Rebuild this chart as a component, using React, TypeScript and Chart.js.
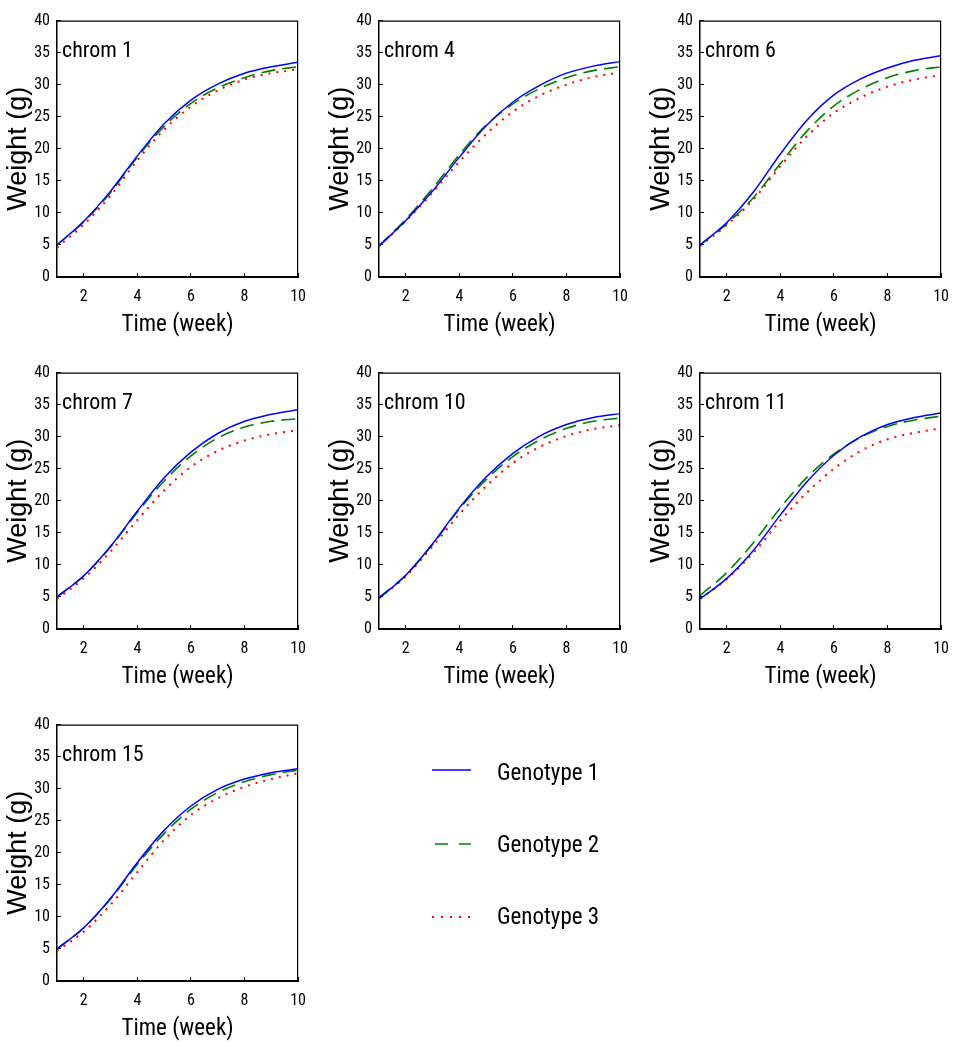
import React, { useEffect, useRef } from "react";
import { Chart, registerables } from "chart.js";

Chart.register(...registerables);

// ---------- data ----------
const WEEKS = [1, 2, 3, 4, 5, 6, 7, 8, 9, 10];
const X_TICKS = [2, 4, 6, 8, 10];
const Y_TICKS = [0, 5, 10, 15, 20, 25, 30, 35, 40];
const GENOTYPES = ["Genotype 1", "Genotype 2", "Genotype 3"];
const CHROMS = ["chrom 1", "chrom 4", "chrom 6", "chrom 7", "chrom 10", "chrom 11", "chrom 15"];

const chrom1G1 = [5.0, 8.7, 13.4, 18.9, 23.9, 27.6, 30.1, 31.8, 32.8, 33.5];
const chrom1G2 = [5.0, 8.6, 13.2, 18.7, 23.5, 27.1, 29.5, 31.1, 32.2, 32.8];
const chrom1G3 = [4.6, 8.2, 12.7, 18.2, 23.0, 26.6, 29.1, 30.8, 31.8, 32.4];

const chrom4G1 = [4.8, 8.8, 13.4, 18.7, 23.6, 27.3, 29.9, 31.8, 32.9, 33.6];
const chrom4G2 = [4.9, 9.0, 13.8, 19.1, 23.7, 27.0, 29.4, 31.1, 32.2, 32.8];
const chrom4G3 = [4.9, 8.7, 13.2, 18.0, 22.3, 25.8, 28.3, 30.0, 31.2, 31.9];

const chrom6G1 = [5.0, 8.5, 13.3, 19.2, 24.5, 28.4, 30.9, 32.6, 33.8, 34.5];
const chrom6G2 = [5.0, 8.3, 12.4, 17.7, 22.8, 26.7, 29.3, 31.1, 32.2, 32.8];
const chrom6G3 = [4.8, 8.1, 12.1, 17.3, 22.0, 25.6, 28.0, 29.7, 30.8, 31.5];

const chrom7G1 = [5.0, 8.3, 12.9, 18.4, 23.6, 27.6, 30.5, 32.4, 33.5, 34.2];
const chrom7G2 = [5.0, 8.3, 12.8, 18.2, 23.1, 27.0, 29.8, 31.5, 32.4, 32.8];
const chrom7G3 = [4.7, 7.9, 12.1, 17.0, 21.6, 25.3, 27.8, 29.4, 30.4, 31.0];

const chrom10G1 = [4.8, 8.4, 13.3, 18.9, 23.7, 27.4, 30.1, 31.9, 33.0, 33.6];
const chrom10G2 = [4.9, 8.4, 13.2, 18.7, 23.3, 26.9, 29.5, 31.3, 32.4, 32.9];
const chrom10G3 = [4.8, 8.2, 12.9, 17.9, 22.3, 25.9, 28.4, 30.1, 31.2, 31.8];

const chrom11G1 = [4.7, 7.9, 12.3, 17.8, 23.0, 27.1, 30.0, 31.9, 33.0, 33.7];
const chrom11G2 = [5.2, 8.8, 13.5, 18.9, 23.7, 27.3, 29.9, 31.6, 32.6, 33.2];
const chrom11G3 = [4.7, 7.8, 11.9, 16.9, 21.3, 25.0, 27.8, 29.6, 30.6, 31.3];

const chrom15G1 = [5.0, 8.3, 12.9, 18.5, 23.5, 27.3, 29.9, 31.5, 32.5, 33.1];
const chrom15G2 = [5.0, 8.3, 12.8, 18.2, 23.0, 26.8, 29.4, 31.1, 32.2, 32.9];
const chrom15G3 = [4.7, 7.7, 11.9, 17.0, 22.0, 25.9, 28.5, 30.3, 31.5, 32.4];

const SERIES = [
  [chrom1G1, chrom1G2, chrom1G3],
  [chrom4G1, chrom4G2, chrom4G3],
  [chrom6G1, chrom6G2, chrom6G3],
  [chrom7G1, chrom7G2, chrom7G3],
  [chrom10G1, chrom10G2, chrom10G3],
  [chrom11G1, chrom11G2, chrom11G3],
  [chrom15G1, chrom15G2, chrom15G3],
];

// ---------- layout / style ----------
const SLOTS = [
  { left: 0, top: 0 },
  { left: 322, top: 0 },
  { left: 643, top: 0 },
  { left: 0, top: 352 },
  { left: 322, top: 352 },
  { left: 643, top: 352 },
  { left: 0, top: 704 },
];
const CW = 320;
const CH = 345;
const NARROW = 'Roboto, "Liberation Sans", Arial, sans-serif';
const REGULAR = '"Liberation Sans", Arial, sans-serif';
const COLORS = ["#0000ff", "#008000", "#ff0000"];
const DASHES: number[][] = [[], [14, 7], [2, 6]];
const WIDTHS = [1.5, 1.6, 2];

const framePlugin = {
  id: "frame",
  afterDraw(chart: any, _args: any, opts: any) {
    const { ctx, chartArea } = chart;
    const { left, top, right, bottom } = chartArea;
    ctx.save();
    ctx.strokeStyle = "#000";
    ctx.lineWidth = 1.2;
    ctx.beginPath();
    ctx.moveTo(left, top + 0.5);
    ctx.lineTo(right, top + 0.5);
    ctx.moveTo(right - 0.5, top);
    ctx.lineTo(right - 0.5, bottom);
    ctx.stroke();
    ctx.font = `condensed 22px ${NARROW}`;
    ctx.fillStyle = "#000";
    ctx.textBaseline = "alphabetic";
    ctx.textAlign = "left";
    ctx.fillText(opts.label, left + 5, top + 36);
    ctx.restore();
  },
};

function Panel({ idx }: { idx: number }) {
  const ref = useRef<HTMLCanvasElement | null>(null);
  useEffect(() => {
    if (!ref.current) return;
    const series = SERIES[idx];
    const chart = new Chart(ref.current, {
      type: "line",
      data: {
        datasets: series.map((vals, g) => ({
          label: GENOTYPES[g],
          data: WEEKS.map((w, i) => ({ x: w, y: vals[i] })),
          borderColor: COLORS[g],
          borderWidth: WIDTHS[g],
          borderDash: DASHES[g],
          pointRadius: 0,
          fill: false,
          cubicInterpolationMode: "monotone",
        })),
      },
      options: {
        animation: false,
        responsive: false,
        events: [],
        layout: { padding: { top: 11, right: 20, left: 0, bottom: 0 } },
        plugins: {
          legend: { display: false },
          tooltip: { enabled: false },
          frame: { label: CHROMS[idx] },
        } as any,
        scales: {
          x: {
            type: "linear",
            min: 1,
            max: 10,
            afterBuildTicks: (s: any) => {
              s.ticks = X_TICKS.map((v) => ({ value: v }));
            },
            afterFit: (s: any) => {
              s.height = 68;
            },
            grid: { drawOnChartArea: false, drawTicks: true, tickLength: -4, color: "#000", lineWidth: 1 },
            border: { display: true, color: "#000", width: 2 },
            ticks: {
              padding: 14,
              color: "#000",
              font: { family: NARROW, size: 16, weight: "condensed" },
              maxRotation: 0,
              autoSkip: false,
            },
            title: {
              display: true,
              text: "Time (week)",
              color: "#000",
              font: { family: NARROW, size: 23, weight: "condensed" },
              padding: { top: 0, bottom: 6 },
            },
          },
          y: {
            type: "linear",
            min: 0,
            max: 40,
            afterBuildTicks: (s: any) => {
              s.ticks = Y_TICKS.map((v) => ({ value: v }));
            },
            afterFit: (s: any) => {
              s.width = 57;
            },
            grid: { drawOnChartArea: false, drawTicks: true, tickLength: -4, color: "#000", lineWidth: 1 },
            border: { display: true, color: "#000", width: 1.5 },
            ticks: {
              padding: 11,
              color: "#000",
              font: { family: NARROW, size: 16, weight: "condensed" },
              autoSkip: false,
            },
            title: {
              display: true,
              text: "Weight (g)",
              color: "#000",
              font: { family: REGULAR, size: 27 },
              padding: { top: 2, bottom: 0 },
            },
          },
        },
      } as any,
      plugins: [framePlugin],
    });
    return () => chart.destroy();
  }, [idx]);
  const slot = SLOTS[idx];
  return (
    <canvas
      ref={ref}
      width={CW}
      height={CH}
      style={{ position: "absolute", left: slot.left, top: slot.top, width: CW, height: CH }}
    />
  );
}

function Legend() {
  const lineY = [770, 844, 917];
  const textY = [780, 852, 924];
  return (
    <svg
      width={959}
      height={1050}
      style={{ position: "absolute", left: 0, top: 0, pointerEvents: "none" }}
    >
      {GENOTYPES.map((g, i) => (
        <g key={g}>
          <line
            x1={i === 1 ? 435 : 432}
            x2={471}
            y1={lineY[i]}
            y2={lineY[i]}
            stroke={COLORS[i]}
            strokeWidth={WIDTHS[i]}
            strokeDasharray={i === 0 ? undefined : i === 1 ? "13 11" : "2 7"}
          />
          <text
            x={497}
            y={textY[i]}
            fontFamily={NARROW}
            fontSize={23}
            fill="#000"
            style={{ fontStretch: "condensed" }}
          >
            {g}
          </text>
        </g>
      ))}
    </svg>
  );
}

export default function App() {
  return (
    <div style={{ position: "absolute", left: 0, top: 0, width: 959, height: 1050, background: "#fff" }}>
      {CHROMS.map((_, i) => (
        <Panel key={i} idx={i} />
      ))}
      <Legend />
    </div>
  );
}
